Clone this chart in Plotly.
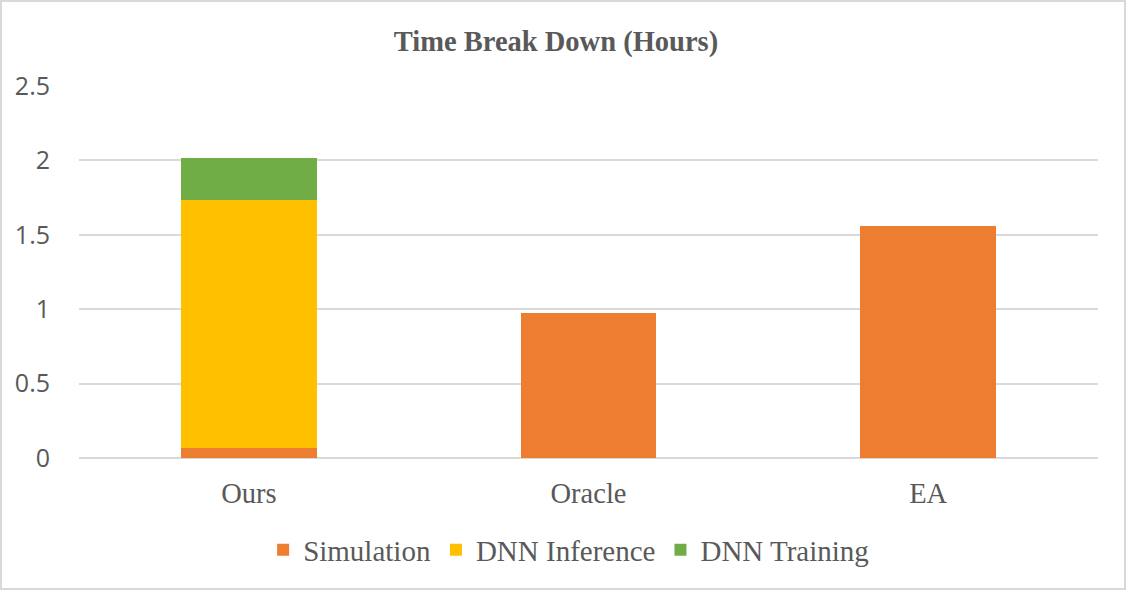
import plotly.graph_objects as go

categories = ["Ours", "Oracle", "EA"]
simulation = [0.065, 0.972, 1.557]
dnn_inference = [1.67, 0, 0]
dnn_training = [0.28, 0, 0]
y_ticks = [0, 0.5, 1, 1.5, 2, 2.5]
y_tick_labels = ["0", "0.5", "1", "1.5", "2", "2.5"]

W, H = 1126, 590
ML, MR, MT, MB = 79, 28, 86, 132

serif = "Liberation Serif, Times New Roman, serif"
sans = "Open Sans, Noto Sans, sans-serif"
txt = "#595959"

fig = go.Figure()
fig.add_bar(name="Simulation", x=categories, y=simulation, marker=dict(color="#ED7D31", line=dict(width=0)))
fig.add_bar(name="DNN Inference", x=categories, y=dnn_inference, marker=dict(color="#FFC000", line=dict(width=0)))
fig.add_bar(name="DNN Training", x=categories, y=dnn_training, marker=dict(color="#70AD47", line=dict(width=0)))

pw = W - ML - MR
ph = H - MT - MB
fig.add_shape(type="rect", xref="paper", yref="paper",
              x0=-(ML - 1) / pw, x1=1 + (MR - 1) / pw,
              y0=-(MB - 1) / ph, y1=1 + (MT - 1) / ph,
              line=dict(color="#D9D9D9", width=2), fillcolor="rgba(0,0,0,0)", layer="below")

fig.update_layout(
    width=W, height=H,
    margin=dict(l=ML, r=MR, t=MT, b=MB, pad=0),
    barmode="stack", bargap=0.6,
    plot_bgcolor="white", paper_bgcolor="white",
    title=dict(text="<b>Time Break Down (Hours)</b>", x=556 / W, xref="container", xanchor="center",
               y=1 - 41 / H, yref="container", yanchor="middle",
               font=dict(family=serif, size=28.5, color=txt)),
    legend=dict(orientation="h", xref="container", x=0.505, xanchor="center",
                yref="container", y=1 - 550 / H, yanchor="middle",
                font=dict(family=serif, size=29, color=txt), traceorder="normal",
                itemwidth=30),
    showlegend=True,
)
fig.update_xaxes(showgrid=False, showline=False, ticks="", zeroline=False,
                 tickfont=dict(family=serif, size=28.5, color=txt), ticklabelstandoff=15)
fig.update_yaxes(range=[0, 2.5], tickvals=y_ticks, ticktext=y_tick_labels,
                 showgrid=True, gridcolor="#D9D9D9", gridwidth=1.5,
                 zeroline=True, zerolinecolor="#D9D9D9", zerolinewidth=1.5,
                 showline=False, ticks="", ticklabelstandoff=28,
                 tickfont=dict(family=sans, size=25, color=txt))

fig.write_html("out.html")
